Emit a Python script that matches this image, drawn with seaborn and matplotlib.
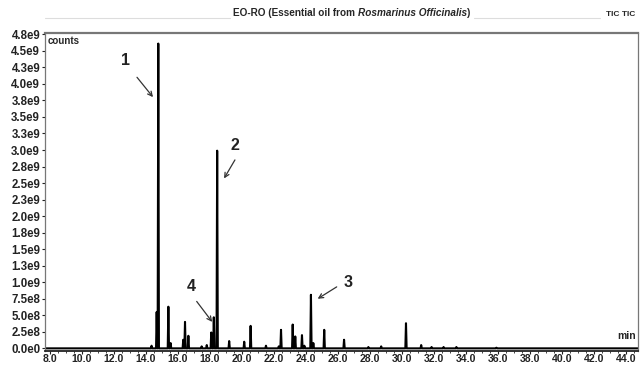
import numpy as np, pandas as pd
import matplotlib as mpl; mpl.use("Agg")
import matplotlib.pyplot as plt
from matplotlib.lines import Line2D
import seaborn as sns

# peak apex retention times (min) and heights (counts, x1e9), read from the TIC
RT=[14.35,14.67,14.77,15.40,15.54,16.33,16.44,16.65,17.48,17.80,18.08,18.24,18.45,
    19.20,20.14,20.54,21.50,22.30,22.44,23.17,23.33,23.75,23.90,24.31,24.46,25.14,
    26.38,27.90,28.70,30.25,31.20,31.85,32.60,33.40,35.90]
H=[0.04,0.55,4.61,0.63,0.08,0.13,0.40,0.19,0.03,0.05,0.24,0.47,2.99,
   0.11,0.10,0.34,0.04,0.03,0.28,0.36,0.18,0.20,0.04,0.81,0.08,0.28,
   0.13,0.02,0.03,0.38,0.05,0.02,0.02,0.02,0.01]
# annotated peaks: number, label position (min, e9), arrow tail, arrow head
ANN=[("1",(12.69,4.35),(13.44,4.10),(14.44,3.80)),
     ("2",(19.56,3.07),(19.56,2.85),(18.88,2.57)),
     ("3",(26.60,1.00),(25.92,0.93),(24.73,0.75)),
     ("4",(16.85,0.93),(17.17,0.71),(18.14,0.40))]
XT=np.arange(8,45,2.0)
YT_LAB=["0.0e0","2.5e8","5.0e8","7.5e8","1.0e9","1.3e9","1.5e9","1.8e9","2.0e9","2.3e9",
        "2.5e9","2.8e9","3.0e9","3.3e9","3.5e9","3.8e9","4.0e9","4.3e9","4.5e9","4.8e9"]
YT=[i*0.25e9 for i in range(len(YT_LAB))]
XLIM=(7.69,44.75)
E9=1e9

# spike trace: baseline - apex - baseline for every peak
hw=0.04
xs=[XLIM[0]]; ys=[0.0]
for t,h in zip(RT,H):
    xs+= [t-hw,t,t+hw]; ys+=[0.0,h*E9,0.0]
xs.append(XLIM[1]); ys.append(0.0)
tic=pd.DataFrame({"min":xs,"counts":ys})

sns.set_theme(style="white")
plt.rcParams["font.family"]=["Liberation Sans Narrow","Liberation Sans","DejaVu Sans"]
fig=plt.figure(figsize=(6.41,3.66),dpi=100)
ax=fig.add_axes([45/641,15/366,593/641,318/366])
sns.lineplot(data=tic,x="min",y="counts",ax=ax,color="black",lw=1.5,sort=False,estimator=None)
ax.set_xlim(*XLIM); ax.set_ylim(-0.04e9,4.77e9)
ax.set_xticks(XT); ax.set_xticklabels([f"{v:.1f}" for v in XT])
ax.set_xticks(np.arange(8,45,0.5),minor=True)
ax.set_yticks(YT); ax.set_yticklabels(YT_LAB)
ax.set_xlabel(""); ax.set_ylabel("")
ax.tick_params(axis="both",labelsize=8.3,colors="#222222",length=2,width=0.8,pad=1.5,direction="out",bottom=True,left=True)
ax.tick_params(axis="x",labelsize=7.6,pad=0.5,length=1.8)
ax.tick_params(axis="x",which="minor",length=1.5,width=0.6,bottom=True)
for t in ax.get_xticklabels()+ax.get_yticklabels(): t.set_fontweight("bold")
for s in ax.spines.values(): s.set_color("#777777"); s.set_linewidth(0.9)
ax.spines["top"].set_linewidth(1.6)
ax.spines["bottom"].set_color("#222222"); ax.spines["bottom"].set_linewidth(1.3)
ax.text(0.005,0.99,"counts",transform=ax.transAxes,ha="left",va="top",fontsize=7,fontweight="bold")
ax.text(0.997,0.03,"min",transform=ax.transAxes,ha="right",va="bottom",fontsize=7.5,fontweight="bold")

for lab,(lx,ly),(tx,ty),(hx,hy) in ANN:
    ax.text(lx,ly*E9,lab,ha="center",va="center",fontsize=11.5,color="#222222",fontweight="bold")
    ax.annotate("",xy=(hx,hy*E9),xytext=(tx,ty*E9),
                arrowprops=dict(arrowstyle="->",color="#333333",lw=0.9,mutation_scale=8,shrinkA=0,shrinkB=0))

# header strip: title (with italic bold species name), faint rule, trace label
W=fig.bbox.width
yb=1-16/366
kw=dict(fontsize=7.2,fontweight="bold",va="baseline",ha="left")
t1=fig.text(0,yb,"EO-RO (Essential oil from ",**kw)
t2=fig.text(0,yb,"Rosmarinus Officinalis",style="italic",**kw)
t3=fig.text(0,yb,")",**kw)
fig.canvas.draw(); r=fig.canvas.get_renderer()
w1,w2,w3=[t.get_window_extent(r).width for t in (t1,t2,t3)]
x0=352-(w1+w2+w3)/2
t1.set_x(x0/W); t2.set_x((x0+w1)/W); t3.set_x((x0+w1+w2)/W)
for a,b in [(45,x0-3),(x0+w1+w2+w3+3,600)]:
    fig.add_artist(Line2D([a/W,b/W],[1-18/366]*2,color="#dddddd",lw=0.8))
fig.text(0.968,yb,"TIC TIC",ha="center",va="baseline",fontsize=6,fontweight="bold")
fig.savefig("out.png",dpi=100)
